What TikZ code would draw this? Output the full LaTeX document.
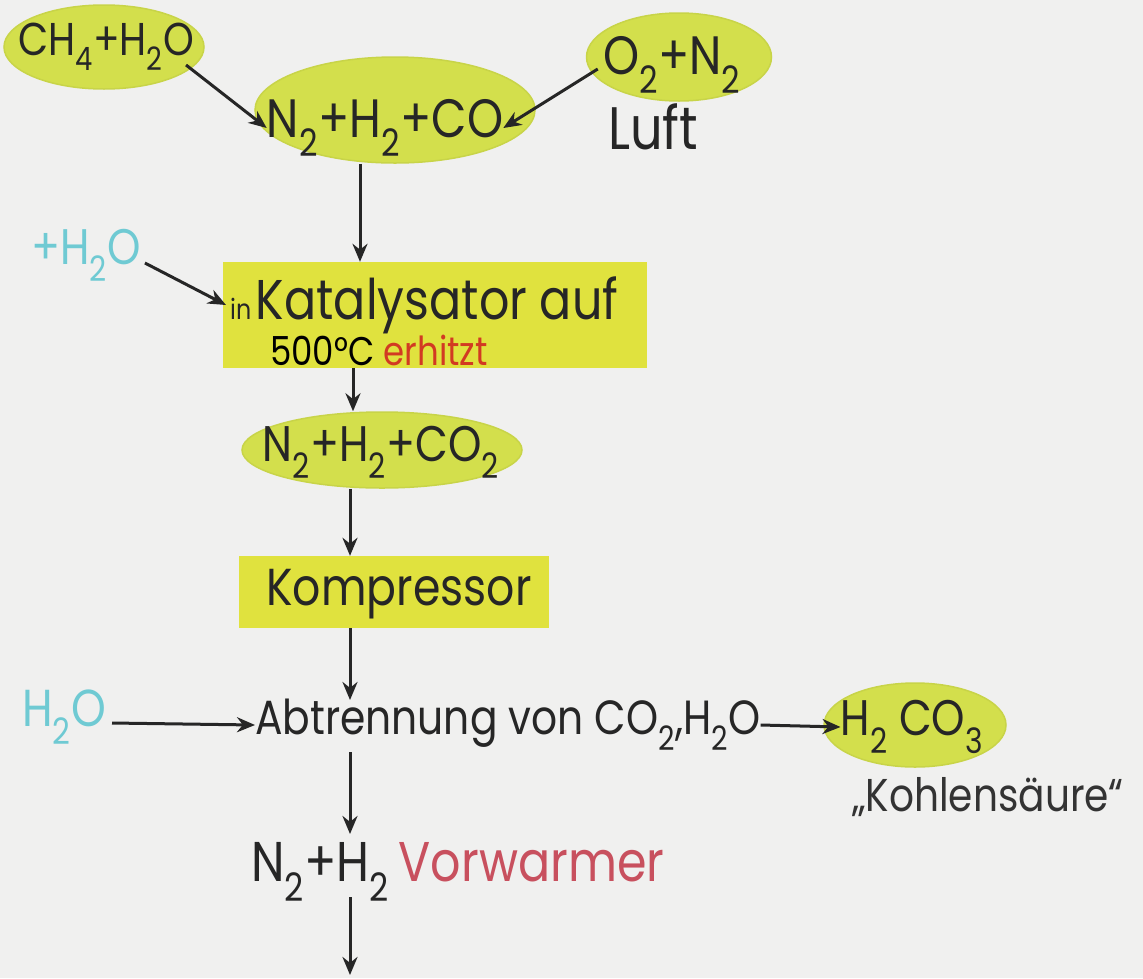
\documentclass[tikz,border=0pt]{standalone}
\usepackage{fontspec}
\setmainfont{Poppins}[FakeStretch=0.85]
\usetikzlibrary{shapes.geometric,arrows.meta}
\definecolor{bgc}{HTML}{F0F0EF}
\definecolor{hl}{HTML}{D3DF4C}
\definecolor{hledge}{HTML}{C8D448}
\definecolor{hlbox}{HTML}{E0E23E}
\definecolor{cy}{HTML}{6FCAD3}
\definecolor{rd}{HTML}{D23A22}
\definecolor{pk}{HTML}{C8505E}
\newcommand{\sub}[1]{\textsubscript{#1}}
\begin{document}
\begin{tikzpicture}[x=1pt,y=-1pt,
  blob/.style={ellipse,fill=hl,draw=hledge,line width=1.5pt,inner sep=0pt},
  hbox/.style={rectangle,fill=hlbox,inner sep=0pt},
  big/.style={font=\fontsize{50}{52}\selectfont,inner sep=0pt,text=black!85},
  arr/.style={line width=3pt,black!85,-{Stealth[length=18pt,width=15pt]}}]
\fill[bgc] (0,0) rectangle (1143,978);
\useasboundingbox (0,0) rectangle (1143,978);
% top row
\node[blob,minimum width=200pt,minimum height=84pt] (ch4bg) at (104,47) {};
\node[big,font=\fontsize{46}{48}\selectfont] (ch4) at (106,47) {CH\sub{4}+H\sub{2}O};
\node[blob,minimum width=280pt,minimum height=106pt] (nbg) at (395,110) {};
\node[big,font=\fontsize{54}{56}\selectfont] (nhc) at (385,128) {N\sub{2}+H\sub{2}+CO};
\node[blob,minimum width=185pt,minimum height=88pt] (obg) at (679,57) {};
\node[big,font=\fontsize{54}{56}\selectfont] (o) at (672,65) {O\sub{2}+N\sub{2}};
\node[big,font=\fontsize{60}{62}\selectfont] (luft) at (653,127) {Luft};
\draw[arr] ([xshift=-8pt,yshift=-18pt]ch4.east) -- (nhc.west);
\draw[arr] ([xshift=12pt,yshift=-12pt]obg.west) -- (nhc.east);
% Katalysator
\node[hbox,minimum width=424pt,minimum height=106pt] (kat) at (435,315) {};
\node[inner sep=0pt,font=\fontsize{50}{52}\selectfont,text=cy] (h2oa) at (86,255) {+H\sub{2}O};
\node[big,font=\fontsize{56}{58}\selectfont,anchor=west] (katt) at (230,305) {{\fontsize{28}{30}\selectfont in\,}Katalysator auf};
\node[anchor=west,inner sep=0pt,font=\fontsize{40}{42}\selectfont] (grad) at (270,350) {500°C \textcolor{rd}{erhitzt}};
\draw[arr] (nbg.south -| 360,0) -- (kat.north -| 360,0);
\draw[arr] (h2oa.east) ++(4pt,-8pt) -- ([xshift=-4pt]katt.west);
% N2+H2+CO2
\node[blob,minimum width=280pt,minimum height=76pt] (co2bg) at (382,450) {};
\node[big] (co2) at (381,452) {N\sub{2}+H\sub{2}+CO\sub{2}};
\draw[arr] (kat.south -| 353,0) -- (co2bg.north -| 353,0);
% Kompressor
\node[hbox,minimum width=310pt,minimum height=72pt] (komp) at (394,592) {};
\node[big,font=\fontsize{52}{54}\selectfont] (kompt) at (399,594) {Kompressor};
\draw[arr] (co2bg.south -| 350,0) -- (komp.north -| 350,0);
% Abtrennung
\node[big,font=\fontsize{48}{50}\selectfont,anchor=west] (abt) at (255,725) {Abtrennung von CO\sub{2},H\sub{2}O};
\node[inner sep=0pt,font=\fontsize{52}{54}\selectfont,text=cy] (h2ob) at (64,717) {H\sub{2}O};
\draw[arr] (komp.south -| 350,0) -- (350,700);
\draw[arr] ([xshift=6pt,yshift=-6pt]h2ob.east) -- (abt.west);
\node[blob,minimum width=182pt,minimum height=84pt] (h2co3bg) at (915,725) {};
\node[big] (h2co3) at (912,727) {H\sub{2} CO\sub{3}};
\node[inner sep=0pt,font=\fontsize{46}{48}\selectfont,text=black!80] (kohl) at (988,797) {„Kohlensäure“};
\draw[arr] (abt.east) -- (h2co3.west);
% bottom
\node[big,font=\fontsize{56}{58}\selectfont,anchor=west] (nh) at (251,872) {N\sub{2}+H\sub{2}\,\textcolor{pk}{Vorwarmer}};
\draw[arr] (350,752) -- (350,834);
\coordinate (endc) at (350,975);
\draw[arr] (350,897) -- (endc);
\end{tikzpicture}
\end{document}
